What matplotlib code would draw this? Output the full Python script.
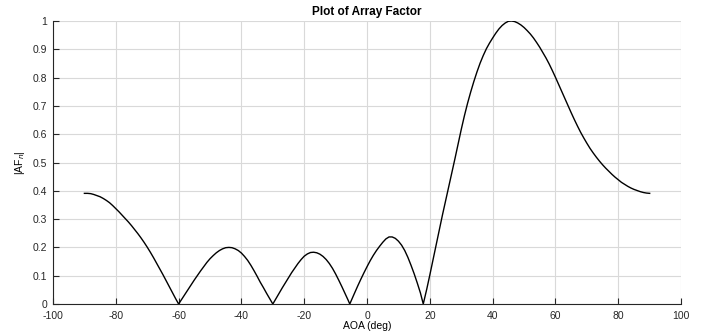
import numpy as np
import matplotlib.pyplot as plt

plt.rcParams['font.family'] = ['Liberation Sans', 'DejaVu Sans']
plt.rcParams['axes.unicode_minus'] = False

# angle of arrival (deg) and |AF| read along the pattern, one lobe per line
aoa = [-90, -89, -88, -87, -86, -85, -84, -83, -82, -81, -80, -79, -78, -77, -76,
       -75, -74, -73, -72, -71, -70, -69, -68, -67, -66, -65, -64, -63, -62, -61, -60,
       -59, -58, -57, -56, -55, -54, -53, -52, -51, -50, -49, -48, -47, -46, -45,
       -44, -43, -42, -41, -40, -39, -38, -37, -36, -35, -34, -33, -32, -31, -30,
       -29, -28, -27, -26, -25, -24, -23, -22, -21, -20, -19, -18, -17, -16, -15,
       -14, -13, -12, -11, -10, -9, -8, -7, -6, -5.5,
       -5, -4, -3, -2, -1, 0, 1, 2, 3, 4, 5, 6, 7, 8, 9, 10, 11, 12, 13, 14, 15,
       16, 17, 17.9,
       19, 20, 21, 22, 23, 24, 25, 26, 27, 28, 29, 30, 31, 32, 33, 34, 35, 36, 37,
       38, 39, 40, 41, 42, 43, 44, 45, 46, 47, 48, 49, 50, 51, 52, 53, 54, 55, 56,
       57, 58, 59, 60, 61, 62, 63, 64, 65, 66, 67, 68, 69, 70, 71, 72, 73, 74, 75,
       76, 77, 78, 79, 80, 81, 82, 83, 84, 85, 86, 87, 88, 89, 90]
af = [0.391, 0.391, 0.390, 0.387, 0.383, 0.379, 0.373, 0.366, 0.358, 0.348, 0.337, 0.326, 0.314, 0.302, 0.290,
      0.277, 0.263, 0.249, 0.234, 0.218, 0.201, 0.183, 0.164, 0.144, 0.124, 0.104, 0.083, 0.062, 0.041, 0.020, 0.0,
      0.017, 0.034, 0.051, 0.068, 0.085, 0.101, 0.117, 0.132, 0.147, 0.160, 0.171, 0.181, 0.189, 0.195, 0.199,
      0.200, 0.199, 0.195, 0.189, 0.180, 0.168, 0.154, 0.137, 0.118, 0.098, 0.077, 0.058, 0.038, 0.019, 0.0,
      0.019, 0.038, 0.057, 0.075, 0.093, 0.111, 0.127, 0.143, 0.157, 0.169, 0.177, 0.182, 0.183, 0.181, 0.176,
      0.168, 0.157, 0.143, 0.126, 0.106, 0.084, 0.061, 0.037, 0.013, 0.0,
      0.013, 0.038, 0.063, 0.087, 0.110, 0.132, 0.153, 0.172, 0.189, 0.204, 0.218, 0.230, 0.237, 0.237, 0.232,
      0.222, 0.208, 0.189, 0.165, 0.137, 0.107, 0.074, 0.039, 0.0,
      0.052, 0.103, 0.156, 0.209, 0.262, 0.314, 0.364, 0.413, 0.463, 0.514, 0.566, 0.617, 0.665, 0.709, 0.749,
      0.786, 0.820, 0.851, 0.878, 0.902, 0.922, 0.940, 0.957, 0.972, 0.984, 0.993, 0.999, 1.0, 0.998, 0.993,
      0.986, 0.977, 0.966, 0.954, 0.940, 0.924, 0.907, 0.888, 0.869, 0.848, 0.825, 0.801, 0.776, 0.751, 0.726,
      0.701, 0.676, 0.652, 0.629, 0.607, 0.587, 0.568, 0.550, 0.534, 0.519, 0.505, 0.492, 0.480, 0.469, 0.458,
      0.448, 0.439, 0.430, 0.423, 0.416, 0.410, 0.405, 0.401, 0.397, 0.394, 0.392, 0.391]

xticks = np.arange(-100, 101, 20)
yticks = np.round(np.arange(0, 1.01, 0.1), 1)
yticklabels = ['0', '0.1', '0.2', '0.3', '0.4', '0.5', '0.6', '0.7', '0.8', '0.9', '1']

fig = plt.figure(figsize=(7.01, 3.36), dpi=100)
ax = fig.add_axes([0.0756, 0.0952, 0.896, 0.8423])

ax.plot(aoa, af, color='black', lw=1.0)

ax.set_xlim(-100, 100)
ax.set_ylim(0, 1)
ax.set_xticks(xticks)
ax.set_yticks(yticks)
ax.set_yticklabels(yticklabels)
ax.grid(True, color='#d9d9d9', lw=0.8)
ax.set_axisbelow(True)

for s in ['top', 'right']:
    ax.spines[s].set_visible(False)
for s in ['left', 'bottom']:
    ax.spines[s].set_color('#262626')
    ax.spines[s].set_linewidth(0.8)

ax.tick_params(direction='in', length=4, width=0.8, colors='#262626',
               labelsize=7.5)
ax.tick_params(axis='x', pad=5)
ax.tick_params(axis='y', pad=4)

ax.set_title('Plot of Array Factor', fontsize=8.5, fontweight='bold', pad=4)
ax.set_xlabel('AOA (deg)', fontsize=7.5, labelpad=0)
ax.set_ylabel('|AF$_n$|', fontsize=7.5, labelpad=4)

fig.savefig('out.png', dpi=100)
